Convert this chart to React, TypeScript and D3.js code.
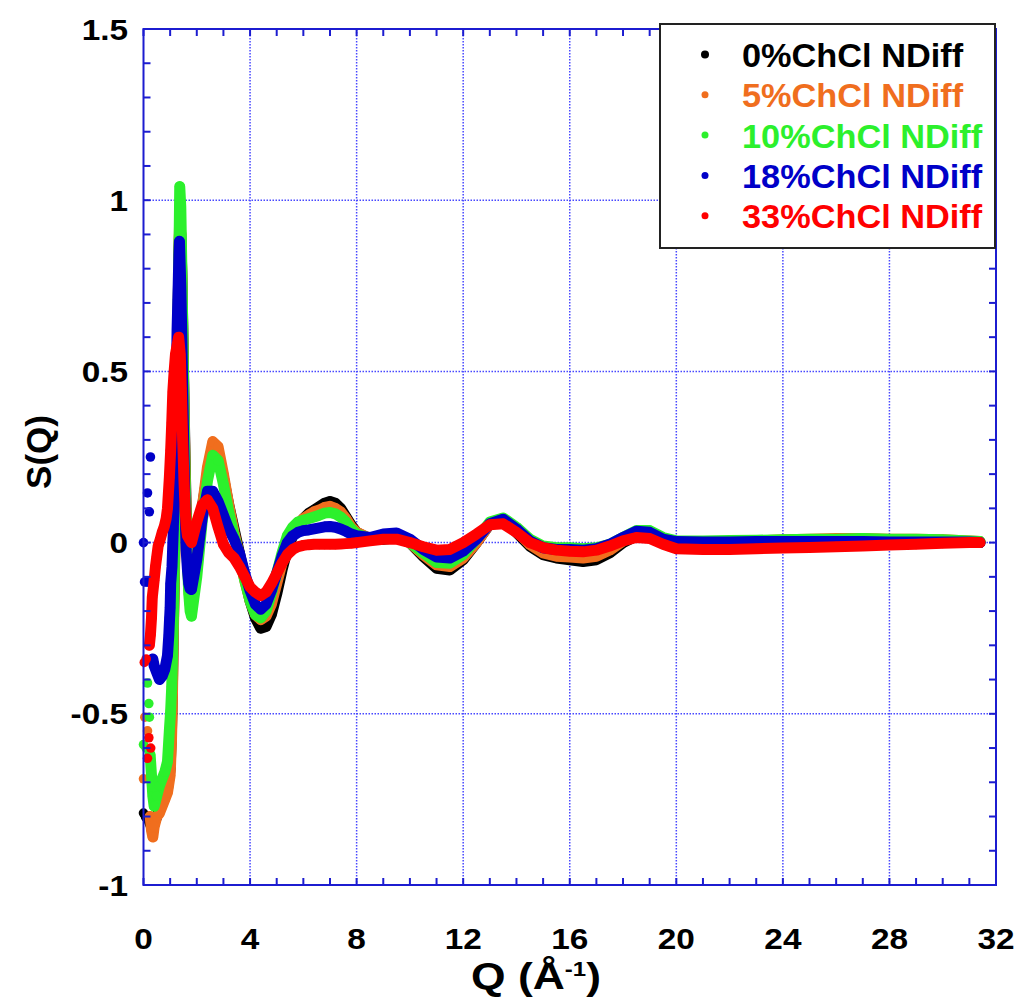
import React from 'react';
import * as d3 from 'd3';

// ---------- DATA ----------
const seriesNames = ['0%ChCl NDiff', '5%ChCl NDiff', '10%ChCl NDiff', '18%ChCl NDiff', '33%ChCl NDiff'];
const seriesColors = ['#000000', '#f06e1e', '#2cf02c', '#0000c8', '#ff0000'];

const xTicks = [0, 4, 8, 12, 16, 20, 24, 28, 32];
const yTicks = [-1, -0.5, 0, 0.5, 1, 1.5];
const yTickLabels = ['-1', '-0.5', '0', '0.5', '1', '1.5'];

// isolated low-Q points [Q, S]
const blackIsolated = [[0.0, -0.79]];
const orangeIsolated = [[0.0, -0.69], [0.15, -0.55], [0.05, -0.51]];
const greenIsolated = [[0.0, -0.59], [0.15, -0.41], [0.2, -0.47], [0.22, -0.51], [0.1, -0.6]];
const blueIsolated = [[0.0, 0.0], [0.04, -0.115], [0.1, -0.115], [0.15, -0.115], [0.2, -0.115], [0.26, -0.115], [0.15, 0.145], [0.22, 0.09], [0.26, 0.25]];
const redIsolated = [[0.03, -0.35], [0.1, -0.34], [0.15, -0.63], [0.27, -0.6], [0.2, -0.57]];

// continuous low-Q points [Q, S]
const blackLow = [[0.1, -0.8], [0.2, -0.81], [0.3, -0.83], [0.35, -0.84], [0.4, -0.82], [0.5, -0.8], [0.6, -0.78], [0.7, -0.76], [0.8, -0.74], [0.9, -0.72], [1.0, -0.66], [1.05, -0.55], [1.08, -0.45], [1.1, -0.35], [1.12, -0.25], [1.15, -0.12], [1.18, 0.0], [1.21, 0.15], [1.24, 0.32], [1.27, 0.5], [1.3, 0.68], [1.33, 0.84], [1.36, 0.93], [1.4, 0.9], [1.44, 0.78], [1.48, 0.6], [1.52, 0.42], [1.56, 0.25], [1.6, 0.1], [1.65, -0.02], [1.7, -0.12], [1.75, -0.17]];
const orangeLow = [[0.25, -0.8], [0.3, -0.84], [0.35, -0.86], [0.4, -0.83], [0.5, -0.8], [0.6, -0.79], [0.7, -0.77], [0.8, -0.75], [0.9, -0.73], [1.0, -0.68], [1.05, -0.58], [1.08, -0.48], [1.1, -0.38], [1.12, -0.27], [1.15, -0.14], [1.18, -0.02], [1.21, 0.12], [1.24, 0.3], [1.27, 0.48], [1.3, 0.66], [1.33, 0.85], [1.36, 0.95], [1.4, 0.9], [1.44, 0.77], [1.48, 0.58], [1.52, 0.4], [1.56, 0.22], [1.6, 0.08], [1.65, -0.04], [1.7, -0.13], [1.75, -0.18]];
const greenLow = [[0.25, -0.62], [0.3, -0.68], [0.35, -0.74], [0.4, -0.77], [0.5, -0.74], [0.6, -0.71], [0.7, -0.69], [0.8, -0.67], [0.9, -0.64], [0.97, -0.55], [1.02, -0.49], [1.06, -0.42], [1.1, -0.3], [1.13, -0.18], [1.16, -0.05], [1.19, 0.05], [1.22, 0.2], [1.25, 0.38], [1.28, 0.56], [1.31, 0.72], [1.34, 0.9], [1.36, 1.04], [1.4, 0.98], [1.44, 0.8], [1.48, 0.6], [1.52, 0.38], [1.56, 0.2], [1.6, 0.05], [1.65, -0.06], [1.7, -0.15], [1.75, -0.2]];
const blueLow = [[0.35, -0.34], [0.4, -0.36], [0.5, -0.38], [0.6, -0.4], [0.7, -0.39], [0.8, -0.37], [0.9, -0.33], [0.95, -0.27], [0.98, -0.22], [1.0, -0.19], [1.02, -0.12], [1.07, -0.07], [1.12, 0.04], [1.16, 0.17], [1.2, 0.3], [1.23, 0.45], [1.26, 0.62], [1.29, 0.71], [1.31, 0.78], [1.33, 0.84], [1.35, 0.88], [1.4, 0.75], [1.44, 0.6], [1.48, 0.42], [1.52, 0.25], [1.56, 0.1], [1.6, -0.02], [1.65, -0.08], [1.7, -0.12], [1.75, -0.135]];
const redLow = [[0.22, -0.3], [0.26, -0.27], [0.3, -0.22], [0.33, -0.16], [0.4, -0.11], [0.45, -0.07], [0.5, -0.04], [0.55, -0.01], [0.63, 0.01], [0.7, 0.03], [0.78, 0.047], [0.85, 0.07], [0.9, 0.1], [0.97, 0.19], [1.02, 0.27], [1.06, 0.35], [1.1, 0.44], [1.15, 0.5], [1.2, 0.55], [1.27, 0.58], [1.32, 0.6], [1.38, 0.55], [1.42, 0.45], [1.47, 0.3], [1.52, 0.18], [1.56, 0.1], [1.6, 0.05], [1.65, 0.02], [1.72, 0.01]];

// shared Q grid (Å^-1) for the dense part of the data
const qGrid = [1.8, 2.0, 2.2, 2.4, 2.6, 2.8, 3.0, 3.2, 3.4, 3.6, 3.8, 4.0, 4.2, 4.4, 4.6, 4.8, 5.0, 5.2, 5.4, 5.6, 5.8, 6.0, 6.2, 6.4, 6.6, 6.8, 7.0, 7.2, 7.4, 7.6, 7.8, 8.0,
  8.5, 9.0, 9.5, 10.0, 10.5, 11.0, 11.5, 12.0, 12.5, 13.0, 13.5, 14.0, 14.5, 15.0, 15.5, 16.0, 16.5, 17.0, 17.5, 18.0, 18.5, 19.0, 19.5, 20.0,
  21, 22, 23, 24, 25, 26, 27, 28, 29, 30, 31, 31.4];

const blackS = [-0.17, -0.05, 0.1, 0.2, 0.265, 0.26, 0.19, 0.11, 0.04, -0.03, -0.1, -0.17, -0.22, -0.25, -0.245, -0.21, -0.15, -0.08, -0.02, 0.02, 0.05, 0.07, 0.085, 0.095, 0.105, 0.115, 0.12, 0.115, 0.1, 0.075, 0.05, 0.03,
  0.01, 0.01, 0.015, 0.0, -0.04, -0.075, -0.08, -0.05, 0.0, 0.055, 0.065, 0.03, -0.01, -0.035, -0.045, -0.05, -0.055, -0.05, -0.03, 0.0, 0.02, 0.02, 0.0, -0.01,
  -0.01, -0.01, -0.005, -0.005, -0.005, 0, 0, 0, 0, 0, 0, 0];
const orangeS = [-0.17, -0.06, 0.1, 0.22, 0.295, 0.28, 0.2, 0.11, 0.03, -0.04, -0.11, -0.17, -0.21, -0.225, -0.215, -0.18, -0.12, -0.06, -0.01, 0.03, 0.055, 0.07, 0.08, 0.09, 0.095, 0.103, 0.106, 0.1, 0.09, 0.07, 0.045, 0.03,
  0.012, 0.012, 0.017, 0.0, -0.035, -0.065, -0.07, -0.045, 0.0, 0.055, 0.066, 0.035, -0.005, -0.03, -0.04, -0.042, -0.045, -0.04, -0.022, 0.005, 0.025, 0.022, 0.005, 0.0,
  0.0, 0.003, 0.005, 0.008, 0.01, 0.012, 0.012, 0.01, 0.01, 0.008, 0.005, 0.003];
const greenS = [-0.215, -0.1, 0.06, 0.18, 0.255, 0.24, 0.17, 0.09, 0.02, -0.04, -0.11, -0.17, -0.21, -0.22, -0.2, -0.15, -0.09, -0.03, 0.02, 0.045, 0.06, 0.065, 0.07, 0.075, 0.08, 0.086, 0.088, 0.084, 0.075, 0.06, 0.04, 0.025,
  0.012, 0.015, 0.02, 0.0, -0.03, -0.058, -0.06, -0.035, 0.01, 0.06, 0.072, 0.045, 0.01, -0.01, -0.015, -0.015, -0.018, -0.015, -0.005, 0.015, 0.035, 0.035, 0.015, 0.005,
  0.005, 0.006, 0.007, 0.008, 0.01, 0.01, 0.012, 0.01, 0.01, 0.008, 0.005, 0.003];
const blueS = [-0.137, -0.05, 0.07, 0.15, 0.15, 0.12, 0.08, 0.04, 0.01, -0.03, -0.09, -0.14, -0.18, -0.195, -0.18, -0.14, -0.09, -0.04, 0.0, 0.02, 0.03, 0.035, 0.037, 0.04, 0.043, 0.046, 0.047, 0.045, 0.04, 0.033, 0.025, 0.02,
  0.015, 0.025, 0.028, 0.01, -0.02, -0.042, -0.045, -0.025, 0.01, 0.055, 0.068, 0.04, 0.005, -0.015, -0.02, -0.02, -0.022, -0.018, -0.005, 0.015, 0.033, 0.03, 0.01, 0.003,
  0.002, 0.002, 0.003, 0.003, 0.003, 0.003, 0.003, 0.002, 0.002, 0.002, 0.002, 0.0];
const redS = [0.0, 0.06, 0.11, 0.125, 0.1, 0.045, -0.005, -0.03, -0.045, -0.07, -0.1, -0.13, -0.145, -0.155, -0.145, -0.12, -0.09, -0.06, -0.035, -0.02, -0.012, -0.008, -0.006, -0.005, -0.005, -0.005, -0.005, -0.005, -0.004, -0.003, -0.002, 0.0,
  0.005, 0.01, 0.01, 0.0, -0.012, -0.022, -0.02, 0.0, 0.025, 0.052, 0.055, 0.03, 0.0, -0.015, -0.022, -0.025, -0.027, -0.022, -0.01, 0.005, 0.015, 0.012, -0.005, -0.018,
  -0.02, -0.02, -0.018, -0.016, -0.014, -0.012, -0.01, -0.007, -0.005, -0.002, 0.0, 0.0];

const isolatedBySeries = [blackIsolated, orangeIsolated, greenIsolated, blueIsolated, redIsolated];
const lowBySeries = [blackLow, orangeLow, greenLow, blueLow, redLow];
const gridBySeries = [blackS, orangeS, greenS, blueS, redS];

// ---------- LAYOUT ----------
const W = 1021;
const H = 998;
const M = { left: 143.5, right: 996, top: 29, bottom: 885 };
const FONT = '"Liberation Sans", Arial, sans-serif';
const AXIS = '#1c1cd0';
const GRID = '#4848ff';

export default function App() {
  const x = d3.scaleLinear().domain([0, 32]).range([M.left, M.right]);
  const y = d3.scaleLinear().domain([-1, 1.5]).range([M.bottom, M.top]);

  const xMinor = d3.range(0, 32.001, 1);
  const yMinor = d3.range(-1, 1.5001, 0.1);

  const line = d3.line<number[]>().x(d => x(d[0])).y(d => y(d[1])).curve(d3.curveLinear);

  const series = seriesNames.map((name, i) => {
    const main = [...lowBySeries[i], ...qGrid.map((q, k) => [q, gridBySeries[i][k]])];
    return { name, color: seriesColors[i], main, iso: isolatedBySeries[i] };
  });

  return (
    <svg width={W} height={H} style={{ position: 'absolute', left: 0, top: 0, background: '#fff' }} fontFamily={FONT}>
      <rect x={0} y={0} width={W} height={H} fill="#fff" />
      {/* grid */}
      <g stroke={GRID} strokeWidth={1.5} strokeDasharray="1.5,1.5">
        {xTicks.slice(1, -1).map(t => (
          <line key={'gx' + t} x1={x(t)} x2={x(t)} y1={M.top} y2={M.bottom} />
        ))}
        {yTicks.slice(1, -1).map(t => (
          <line key={'gy' + t} x1={M.left} x2={M.right} y1={y(t)} y2={y(t)} />
        ))}
      </g>
      {/* data */}
      {series.map(s => (
        <g key={s.name}>
          <path d={line(s.main) || ''} fill="none" stroke={s.color} strokeWidth={11} strokeLinejoin="round" strokeLinecap="round" />
          {s.main.map((p, k) => (
            <circle key={'m' + k} cx={x(p[0])} cy={y(p[1])} r={5} fill={s.color} />
          ))}
          {s.iso.map((p, k) => (
            <circle key={'i' + k} cx={x(p[0])} cy={y(p[1])} r={4.8} fill={s.color} />
          ))}
        </g>
      ))}
      {/* frame + ticks */}
      <g stroke={AXIS} strokeWidth={2}>
        <rect x={M.left} y={M.top} width={M.right - M.left} height={M.bottom - M.top} fill="none" />
        {xMinor.map(t => (
          <g key={'tx' + t}>
            <line x1={x(t)} x2={x(t)} y1={M.bottom} y2={M.bottom - 7} />
            <line x1={x(t)} x2={x(t)} y1={M.top} y2={M.top + 7} />
          </g>
        ))}
        {yMinor.map(t => (
          <g key={'ty' + t.toFixed(1)}>
            <line x1={M.left} x2={M.left + 7} y1={y(t)} y2={y(t)} />
            <line x1={M.right} x2={M.right - 7} y1={y(t)} y2={y(t)} />
          </g>
        ))}
      </g>
      {/* tick labels */}
      <g fontWeight="bold" fontSize={29} fill="#000">
        {xTicks.map(t => (
          <text key={'lx' + t} transform={`translate(${x(t)},949) scale(1.15,1)`} textAnchor="middle">{t}</text>
        ))}
        {yTicks.map((t, i) => (
          <text key={'ly' + t} transform={`translate(128,${y(t) + 10.5}) scale(1.15,1)`} textAnchor="end">{yTickLabels[i]}</text>
        ))}
      </g>
      {/* axis titles */}
      <text x={38} y={452} fontWeight="bold" fontSize={35} textAnchor="middle" transform="rotate(-90 38 452)" dominantBaseline="central">S(Q)</text>
      <text transform="translate(536,989) scale(1.2,1)" fontWeight="bold" fontSize={37} textAnchor="middle">
        Q (Å<tspan fontSize={20} dy={-13}>-1</tspan><tspan dy={13}>)</tspan>
      </text>
      {/* legend */}
      <rect x={660} y={24} width={335} height={224} fill="#fff" stroke="#222" strokeWidth={2} />
      {series.map((s, i) => (
        <g key={'lg' + i}>
          <circle cx={705} cy={54.5 + i * 40.3} r={i === 0 ? 4 : 3.5} fill={s.color} />
          <text transform={`translate(742,${67 + i * 40.3}) scale(1.04,1)`} fontWeight="bold" fontSize={33} fill={s.color}>{s.name}</text>
        </g>
      ))}
    </svg>
  );
}
